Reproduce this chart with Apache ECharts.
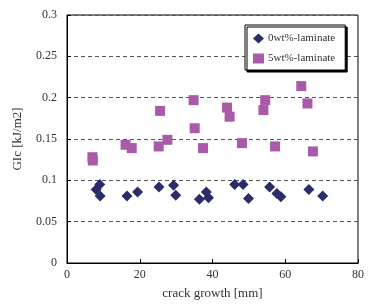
<!DOCTYPE html>
<html>
<head>
<meta charset="utf-8">
<script src="https://cdn.jsdelivr.net/npm/echarts@6/dist/echarts.min.js"></script>
<style>
  html, body { margin: 0; padding: 0; background: #fff; }
  #chart { width: 368px; height: 305px; }
</style>
</head>
<body>
<div id="chart"></div>
<script>
(function () {

    // 0wt%-laminate : crack growth [mm], GIc [kJ/m2]
    var crack0 = [8.0, 9.0, 9.1, 16.5, 19.4, 25.3, 29.3, 29.9, 36.4, 38.3, 38.9, 46.1, 48.4, 49.9, 55.7, 57.7, 58.8, 66.5, 70.3];
    var gic0   = [0.089, 0.095, 0.081, 0.081, 0.086, 0.092, 0.094, 0.082, 0.077, 0.086, 0.079, 0.095, 0.095, 0.078, 0.092, 0.084, 0.080, 0.089, 0.081];

    // 5wt%-laminate
    var crack5 = [7.0, 7.1, 16.1, 17.8, 25.2, 25.6, 27.6, 34.8, 35.1, 37.4, 44.0, 44.7, 48.1, 54.0, 54.5, 57.2, 64.4, 66.1, 67.6];
    var gic5   = [0.128, 0.124, 0.143, 0.139, 0.141, 0.184, 0.149, 0.197, 0.163, 0.139, 0.188, 0.177, 0.145, 0.185, 0.197, 0.141, 0.214, 0.193, 0.135];

    var seriesNames = ['0wt%-laminate', '5wt%-laminate'];
    var yTicks = [0, 0.05, 0.1, 0.15, 0.2, 0.25, 0.3];
    var xTicks = [0, 20, 40, 60, 80];

    function pairs(xs, ys) {
        var out = [];
        for (var i = 0; i < xs.length; i++) {
            out.push([xs[i], ys[i]]);
        }
        return out;
    }

    var font = 'Liberation Serif';

    var option = {
        backgroundColor: '#fff',
        animation: false,
        grid: {
            left: 67, right: 10, top: 15, bottom: 34,
            show: true,
            borderColor: '#000',
            borderWidth: 1
        },
        legend: {
            orient: 'vertical',
            left: 245,
            top: 25,
            width: 104,
            data: seriesNames,
            padding: [8, 10, 6, 8],
            itemGap: 9,
            itemWidth: 11,
            itemHeight: 10,
            backgroundColor: '#fff',
            borderColor: '#000',
            borderWidth: 1,
            shadowColor: 'rgba(0,0,0,1)',
            shadowBlur: 0,
            shadowOffsetX: 2,
            shadowOffsetY: 2,
            textStyle: {fontFamily: font, fontSize: 11, color: '#333', padding: [0, 0, 0, -1]}
        },
        xAxis: {
            type: 'value',
            min: xTicks[0],
            max: xTicks[xTicks.length - 1],
            interval: 20,
            name: 'crack growth [mm]',
            nameLocation: 'middle',
            nameGap: 24,
            nameTextStyle: {fontFamily: font, fontSize: 13, color: '#333'},
            axisLine: {lineStyle: {color: '#000', width: 1}},
            axisTick: {inside: true, length: 4, lineStyle: {color: '#000'}},
            axisLabel: {fontFamily: font, fontSize: 12, color: '#333', margin: 6},
            splitLine: {show: false}
        },
        yAxis: {
            type: 'value',
            min: yTicks[0],
            max: yTicks[yTicks.length - 1],
            interval: 0.05,
            name: 'GIc [kJ/m2]',
            nameLocation: 'middle',
            nameGap: 43,
            nameTextStyle: {fontFamily: font, fontSize: 13, color: '#333'},
            axisLine: {show: true, lineStyle: {color: '#000', width: 1}},
            axisTick: {show: true, inside: true, length: 4, lineStyle: {color: '#000'}},
            axisLabel: {fontFamily: font, fontSize: 12, color: '#333', margin: 10},
            splitLine: {
                show: true,
                lineStyle: {color: '#555', type: [4, 3], width: 1}
            }
        },
        series: [
            {
                name: seriesNames[0],
                type: 'scatter',
                symbol: 'diamond',
                symbolSize: 11,
                itemStyle: {color: '#2b2c6a', opacity: 1},
                data: pairs(crack0, gic0)
            },
            {
                name: seriesNames[1],
                type: 'scatter',
                symbol: 'rect',
                symbolSize: 10,
                itemStyle: {color: '#a95ba9', opacity: 1},
                data: pairs(crack5, gic5)
            }
        ]
    };

    var chart = echarts.init(document.getElementById('chart'));
    chart.setOption(option);

})();
</script>
</body>
</html>
